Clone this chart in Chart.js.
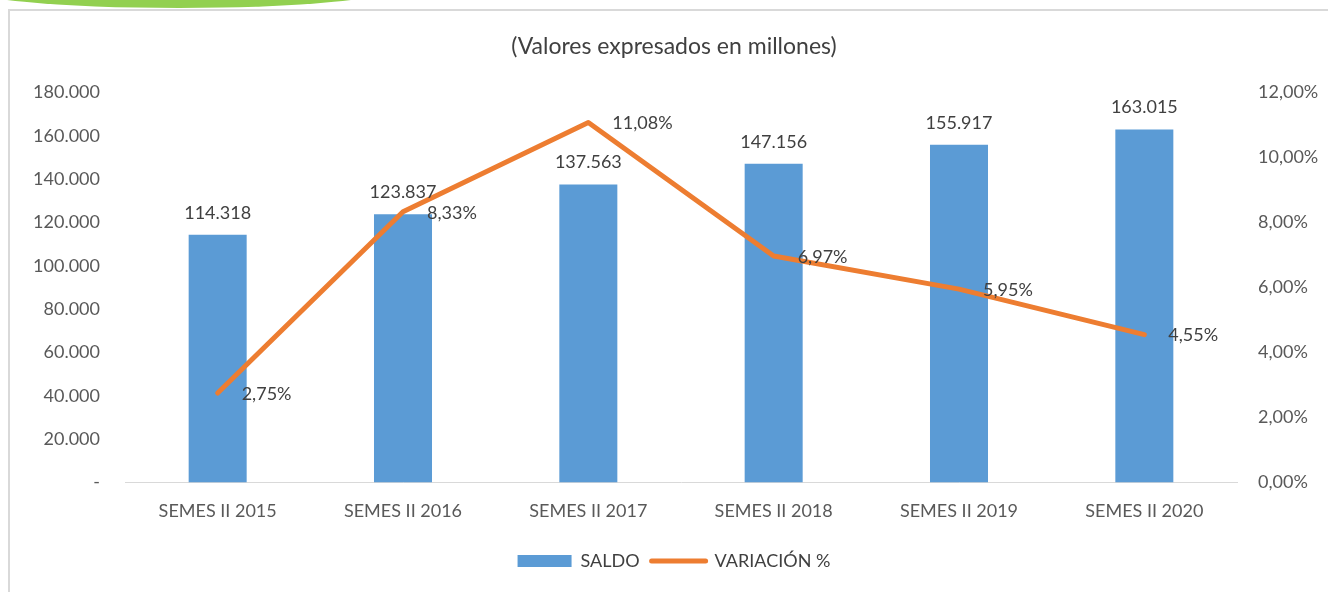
<!DOCTYPE html>
<html>
<head>
<meta charset="utf-8">
<script src="https://cdn.jsdelivr.net/npm/chart.js@4.4.1/dist/chart.umd.min.js"></script>
<style>
  html, body { margin: 0; padding: 0; background: #fff; }
  body { width: 1328px; height: 592px; position: relative; overflow: hidden; }
  #frame { position: absolute; left: 8px; top: 9px; width: 1340px; height: 600px; border: 2px solid #d9d9d9; box-sizing: border-box; }
  #deco { position: absolute; left: -40px; top: -34px; width: 438px; height: 42px; border-radius: 50%; background: #92d050; }
  #wrap { position: absolute; left: 0; top: 0; width: 1328px; height: 592px; }
</style>
</head>
<body>
<div id="frame"></div>
<div id="deco"></div>
<div id="wrap"><canvas id="c" width="1328" height="592"></canvas></div>
<script>
const categories = ['SEMES II 2015', 'SEMES II 2016', 'SEMES II 2017', 'SEMES II 2018', 'SEMES II 2019', 'SEMES II 2020'];
const saldo = [114318, 123837, 137563, 147156, 155917, 163015];
const variacion = [0.0275, 0.0833, 0.1108, 0.0697, 0.0595, 0.0455];
const titleText = '(Valores expresados en millones)';

const FONT = 'Lato, "Open Sans", sans-serif';
const fmtThousands = v => v === 0 ? '-' : Math.round(v).toString().replace(/\B(?=(\d{3})+(?!\d))/g, '.');
const fmtPct = v => (v * 100).toFixed(2).replace('.', ',') + '%';

const labelPlugin = {
  id: 'valueLabels',
  afterDatasetsDraw(chart) {
    const ctx = chart.ctx;
    ctx.save();
    ctx.font = '18px ' + FONT;
    ctx.fillStyle = '#404040';
    const barIdx = chart.data.datasets.findIndex(d => d.type === 'bar');
    const lineIdx = chart.data.datasets.findIndex(d => d.type === 'line');
    const barMeta = chart.getDatasetMeta(barIdx);
    ctx.textAlign = 'center';
    ctx.textBaseline = 'bottom';
    barMeta.data.forEach((el, i) => {
      ctx.fillText(fmtThousands(saldo[i]), el.x, el.y - 13);
    });
    const lineMeta = chart.getDatasetMeta(lineIdx);
    ctx.textAlign = 'left';
    ctx.textBaseline = 'middle';
    lineMeta.data.forEach((el, i) => {
      ctx.fillText(fmtPct(variacion[i]), el.x + 24, el.y + 1);
    });
    ctx.restore();
  }
};

new Chart(document.getElementById('c'), {
  data: {
    labels: categories,
    datasets: [
      {
        type: 'line',
        label: 'VARIACIÓN %',
        data: variacion,
        yAxisID: 'y2',
        borderColor: '#ed7d31',
        backgroundColor: '#ed7d31',
        borderWidth: 5,
        borderCapStyle: 'round',
        borderJoinStyle: 'round',
        pointRadius: 0,
        tension: 0,
        order: 0
      },
      {
        type: 'bar',
        label: 'SALDO',
        data: saldo,
        yAxisID: 'y',
        backgroundColor: '#5b9bd5',
        borderWidth: 0,
        categoryPercentage: 1,
        barPercentage: 0.313,
        order: 1
      }
    ]
  },
  options: {
    responsive: false,
    animation: false,
    layout: { padding: { left: 20, right: 0, top: 0, bottom: 12 } },
    plugins: {
      title: {
        display: true,
        text: titleText,
        color: '#404040',
        font: { family: FONT, size: 23, weight: 'normal' },
        padding: { top: 33, bottom: 32 }
      },
      legend: {
        position: 'bottom',
        reverse: true,
        labels: {
          color: '#404040',
          font: { family: FONT, size: 18 },
          usePointStyle: true,
          boxHeight: 12,
          pointStyleWidth: 54,
          padding: 12,
          generateLabels(chart) {
            const items = Chart.defaults.plugins.legend.labels.generateLabels(chart);
            items.forEach(it => {
              if (it.text === 'SALDO') {
                it.pointStyle = 'rect';
                it.lineWidth = 0;
                it.strokeStyle = '#5b9bd5';
              } else {
                it.pointStyle = 'line';
                it.lineWidth = 5;
                it.lineCap = 'round';
                it.strokeStyle = '#ed7d31';
              }
            });
            return items;
          }
        }
      },
      tooltip: { enabled: false }
    },
    scales: {
      x: {
        grid: { display: false, drawTicks: false },
        border: { display: true, color: '#d9d9d9', width: 1 },
        ticks: { color: '#595959', font: { family: FONT, size: 18 }, padding: 18, maxRotation: 0 }
      },
      y: {
        position: 'left',
        min: 0, max: 180000,
        grid: { display: false, drawTicks: false },
        border: { display: false },
        ticks: { stepSize: 20000, color: '#595959', font: { family: FONT, size: 18 }, padding: 25, callback: v => fmtThousands(v) },
        afterFit(s) { s.width = 105; }
      },
      y2: {
        position: 'right',
        min: 0, max: 0.12,
        grid: { display: false, drawTicks: false },
        border: { display: false },
        ticks: { stepSize: 0.02, color: '#595959', font: { family: FONT, size: 18 }, padding: 21, callback: v => fmtPct(v) },
        afterFit(s) { s.width = 91; }
      }
    }
  },
  plugins: [labelPlugin]
});
</script>
</body>
</html>
